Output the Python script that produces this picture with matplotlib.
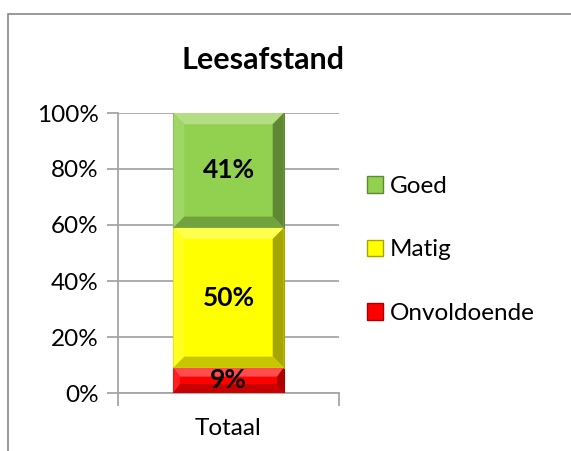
import matplotlib
matplotlib.use("Agg")
import matplotlib.pyplot as plt
from matplotlib.patches import Rectangle, Patch, Polygon
from matplotlib.ticker import FixedLocator, PercentFormatter
from matplotlib.colors import to_rgb

plt.rcParams['font.family'] = ['Lato', 'DejaVu Sans']

title = "Leesafstand"
category = ["Totaal"]
series = ["Onvoldoende", "Matig", "Goed"]
values = [9, 50, 41]
colors = ["#FF0000", "#FFFF00", "#92D050"]


def shade(c, f):
    r = to_rgb(c)
    if f >= 0:
        return tuple(x + (1 - x) * f for x in r)
    return tuple(x * (1 + f) for x in r)


fig = plt.figure(figsize=(5.71, 4.51), dpi=100)
fig.patches.append(Rectangle((8/571, -0.1), 1.2, 1 - 14/451 + 0.1, transform=fig.transFigure,
                             fill=False, edgecolor="#888888", linewidth=1.2))
ax = fig.add_axes([118/571, 1 - 393/451, (339 - 118)/571, (393 - 113)/451])

width = 0.5
bx = 0.05   # bevel size in x (data units)
bottom = 0
handles = []
for name, v, c in zip(series, values, colors):
    ax.bar(0, v, width=width, bottom=bottom, color=c, edgecolor=shade(c, -0.35),
           linewidth=0.8, zorder=3)
    x0, x1 = -width/2, width/2
    y0, y1 = bottom, bottom + v
    by = min(4.0, v * 0.35)
    bxx = bx if v > 12 else bx * 0.6
    ix0, ix1, iy0, iy1 = x0 + bxx, x1 - bxx, y0 + by, y1 - by
    bevels = [
        ([(x0, y1), (x1, y1), (ix1, iy1), (ix0, iy1)], 0.30),   # top
        ([(x0, y0), (x0, y1), (ix0, iy1), (ix0, iy0)], 0.12),   # left
        ([(x1, y0), (x1, y1), (ix1, iy1), (ix1, iy0)], -0.35),  # right
        ([(x0, y0), (x1, y0), (ix1, iy0), (ix0, iy0)], -0.22),  # bottom
    ]
    for pts, f in bevels:
        ax.add_patch(Polygon(pts, closed=True, facecolor=shade(c, f), edgecolor="none", zorder=3.5))
    ax.text(0, bottom + v/2, f"{v}%", ha="center", va="center", fontsize=19,
            fontweight="bold", color="black", zorder=4)
    handles.append(Patch(facecolor=c, edgecolor=shade(c, -0.35), label=name))
    bottom += v

ax.set_xlim(-0.5, 0.5)
ax.set_ylim(0, 100)
ax.yaxis.set_major_locator(FixedLocator([0, 20, 40, 60, 80, 100]))
ax.yaxis.set_major_formatter(PercentFormatter(decimals=0))
ax.grid(axis="y", color="#A6A6A6", linewidth=1.3, zorder=0)
ax.set_xticks([-0.5, 0.5])
ax.set_xticklabels(["", ""])
ax.set_xticks([0], labels=category, minor=True)
ax.tick_params(axis="x", which="minor", length=0, labelsize=17.5, pad=18)
ax.tick_params(axis="x", which="major", length=9, color="#A6A6A6", width=1.3)
ax.tick_params(axis="y", length=8, color="#A6A6A6", width=1.3, labelsize=17.5, pad=6)
for s in ["top", "right"]:
    ax.spines[s].set_visible(False)
for s in ["left", "bottom"]:
    ax.spines[s].set_color("#A6A6A6")
    ax.spines[s].set_linewidth(1.3)

fig.text(263/571, 1 - 60/451, title, ha="center", va="center", fontsize=22, fontweight="bold")

leg = fig.legend(handles=handles[::-1], loc="center left", bbox_to_anchor=(367/571, 1 - 250/451),
                 frameon=False, fontsize=17.5, handlelength=0.65, handleheight=0.65,
                 handletextpad=0.3, labelspacing=1.75, borderpad=0, borderaxespad=0)

fig.savefig("out.png", dpi=100)
